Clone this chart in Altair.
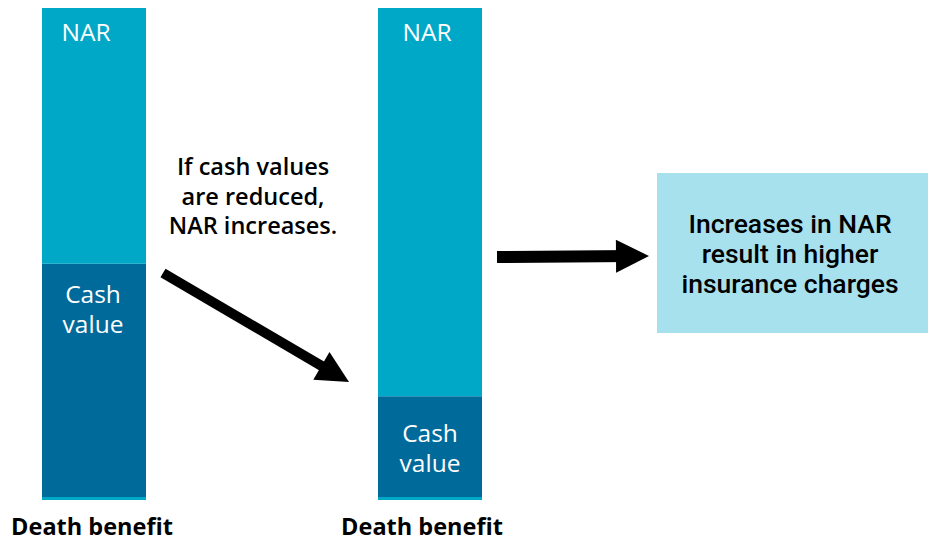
import math
import altair as alt
import pandas as pd

# ---------------- data ----------------
bar_ids = ["before", "after"]
bar_labels = ["Death benefit", "Death benefit"]
death_benefit = [100, 100]
cash_value = [47.4, 20.5]
nar_value = [d - c for d, c in zip(death_benefit, cash_value)]
segment_names = ["NAR", "Cash value"]
note_lines = ["If cash values", "are reduced,", "NAR increases."]
box_lines = ["Increases in NAR", "result in higher", "insurance charges"]

# ---------------- style / layout ----------------
NAR_COLOR = "#00A8C8"
CASH_COLOR = "#006A9A"
BOX_COLOR = "#A8E1EE"
FONT = "Open Sans"
BOX_FONT = "Roboto"
W, H = 920, 530
BOTTOM = 497          # image row of value 0
PXU = 4.92            # pixels per value unit


def X(ix):
    return ix - 8


def Y(iy):
    return (BOTTOM - iy) / PXU


xs = alt.Scale(domain=[0, W], range=[0, W], nice=False, zero=False)
ys = alt.Scale(domain=[0, 100], range=[BOTTOM - 8, BOTTOM - 8 - 100 * PXU], nice=False, zero=False)

bar_left = [42, 378]
bar_w = 104

rows = []
for i, bid in enumerate(bar_ids):
    x0, x1 = X(bar_left[i]), X(bar_left[i] + bar_w)
    rows.append(dict(bar=bid, seg="Cash value", x=x0, x2=x1, y=0, y2=cash_value[i]))
    rows.append(dict(bar=bid, seg="NAR", x=x0, x2=x1, y=cash_value[i], y2=death_benefit[i]))
    rows.append(dict(bar=bid, seg="NAR", x=x0, x2=x1, y=Y(500), y2=0))
bars_df = pd.DataFrame(rows)

color = alt.Color("seg:N", scale=alt.Scale(domain=segment_names, range=[NAR_COLOR, CASH_COLOR]), legend=None)

bars = alt.Chart(bars_df).mark_rect().encode(
    x=alt.X("x:Q", scale=xs, axis=None), x2="x2",
    y=alt.Y("y:Q", scale=ys, axis=None), y2="y2",
    color=color,
)

# segment labels inside bars
seg_lab = pd.DataFrame([
    dict(t="NAR", x=X(86), y=Y(41)),
    dict(t="Cash", x=X(93), y=Y(303)),
    dict(t="value", x=X(93), y=Y(333)),
    dict(t="NAR", x=X(427), y=Y(41)),
    dict(t="Cash", x=X(430), y=Y(442)),
    dict(t="value", x=X(430), y=Y(472)),
])
seg_text = alt.Chart(seg_lab).mark_text(
    font=FONT, fontSize=24.5, color="white", align="center", baseline="alphabetic"
).encode(x=alt.X("x:Q", scale=xs), y=alt.Y("y:Q", scale=ys), text="t:N")

# axis-like labels under bars
db_df = pd.DataFrame([
    dict(t=bar_labels[0], x=X(92), y=Y(535)),
    dict(t=bar_labels[1], x=X(422), y=Y(535)),
])
db_text = alt.Chart(db_df).mark_text(
    font=FONT, fontSize=23.5, fontWeight="bold", color="black", align="center", baseline="alphabetic"
).encode(x=alt.X("x:Q", scale=xs), y=alt.Y("y:Q", scale=ys), text="t:N")

# middle note
note_df = pd.DataFrame([
    dict(t=note_lines[i], x=X(253), y=Y(175 + 29.5 * i)) for i in range(3)
])
note_text = alt.Chart(note_df).mark_text(
    font=FONT, fontSize=23.5, fontWeight=600, color="black", align="center", baseline="alphabetic"
).encode(x=alt.X("x:Q", scale=xs), y=alt.Y("y:Q", scale=ys), text="t:N")

# box
box_df = pd.DataFrame([dict(x=X(657), x2=X(931), y=Y(173), y2=Y(333))])
box = alt.Chart(box_df).mark_rect(color=BOX_COLOR).encode(
    x=alt.X("x:Q", scale=xs), x2="x2", y=alt.Y("y:Q", scale=ys), y2="y2"
)
box_txt_df = pd.DataFrame([
    dict(t=box_lines[i], x=X(790), y=Y(233 + 30 * i)) for i in range(3)
])
box_text = alt.Chart(box_txt_df).mark_text(
    font=BOX_FONT, fontSize=26.5, fontWeight=500, color="black", align="center", baseline="alphabetic"
).encode(x=alt.X("x:Q", scale=xs), y=alt.Y("y:Q", scale=ys), text="t:N")

# arrows: start, tip, head length, head width, shaft width
arrows = [
    dict(sx=163, sy=273, tx=349, ty=382, hl=32, hw=31, sw=10),
    dict(sx=497, sy=257, tx=649, ty=256, hl=33, hw=34, sw=12),
]
shaft_rows, head_rows = [], []
for a in arrows:
    dx, dy = a["tx"] - a["sx"], a["ty"] - a["sy"]
    ang = math.atan2(dy, dx)
    ux, uy = math.cos(ang), math.sin(ang)
    cx, cy = a["tx"] - ux * a["hl"] / 2, a["ty"] - uy * a["hl"] / 2
    shaft_rows.append(dict(x=X(a["sx"]), y=Y(a["sy"]), x2=X(cx), y2=Y(cy), sw=a["sw"]))
    head_rows.append(dict(x=X(cx), y=Y(cy), ang=math.degrees(ang), size=a["hl"] ** 2))
shaft_df = pd.DataFrame(shaft_rows)
head_df = pd.DataFrame(head_rows)

shafts = alt.Chart(shaft_df).mark_rule(color="black", strokeCap="butt").encode(
    x=alt.X("x:Q", scale=xs), y=alt.Y("y:Q", scale=ys), x2="x2", y2="y2",
    strokeWidth=alt.StrokeWidth("sw:Q", scale=None),
)
heads = alt.Chart(head_df).mark_point(
    shape="M-1,-1L1,0L-1,1Z", filled=True, color="black", opacity=1, strokeWidth=0
).encode(
    x=alt.X("x:Q", scale=xs), y=alt.Y("y:Q", scale=ys),
    angle=alt.Angle("ang:Q", scale=None),
    size=alt.Size("size:Q", scale=None),
)

chart = alt.layer(bars, seg_text, db_text, note_text, box, box_text, shafts, heads).properties(
    width=W, height=H, padding=0, background="white",
    autosize=alt.AutoSizeParams(type="none"),
).configure_view(strokeWidth=0, stroke="transparent")

chart.save("out.html", embed_options={"renderer": "svg", "actions": False})
